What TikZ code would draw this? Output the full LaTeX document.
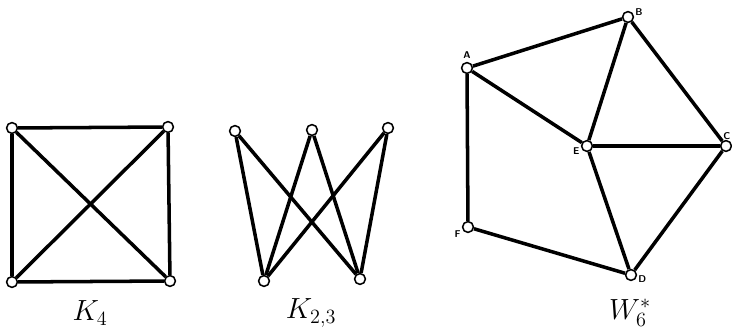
\documentclass[tikz,border=0pt]{standalone}
\usepackage{tikz}
\usetikzlibrary{positioning, calc}
\tikzset{
  vertice/.style={
    circle, draw, fill=white, line width=1.1pt, minimum size=0.27cm, inner sep=0pt
  },
  aresta/.style={line width=2.5pt, black},
  rotulo/.style={font=\sffamily\bfseries\scriptsize, inner sep=1pt},
  titulo/.style={font=\huge},
}

\begin{document}
\begin{tikzpicture}[x=0.025cm, y=-0.025cm]
        \useasboundingbox (0,0) rectangle (732,335);

        % K4
        \node[vertice] (k1) at (12,128) {};
        \node[vertice] (k2) at (168,127) {};
        \node[vertice] (k3) at (170,281) {};
        \node[vertice] (k4) at (12,282) {};
        \foreach \a/\b in {k1/k2, k2/k3, k3/k4, k4/k1, k1/k3, k2/k4}
          \draw[aresta] (\a) -- (\b);
        \node[titulo] (tk4) at (90,313) {$K_4$};

        % K2,3
        \node[vertice] (t1) at (235,131) {};
        \node[vertice] (t2) at (312,130) {};
        \node[vertice] (t3) at (388,128) {};
        \node[vertice] (b1) at (264,281) {};
        \node[vertice] (b2) at (360,279) {};
        \foreach \a in {t1, t2, t3}
          \foreach \b in {b1, b2}
            \draw[aresta] (\a) -- (\b);
        \node[titulo] (tk23) at (311,313) {$K_{2,3}$};

        % W6*
        \node[vertice] (A) at (467,68) {};
        \node[vertice] (B) at (628,17) {};
        \node[vertice] (C) at (726,146) {};
        \node[vertice] (E) at (587,146) {};
        \node[vertice] (D) at (631,275) {};
        \node[vertice] (F) at (468,227) {};
        \foreach \a/\b in {A/B, A/E, A/F, B/E, B/C, E/C, E/D, C/D, F/D}
          \draw[aresta] (\a) -- (\b);
        \node[rotulo, above=1pt of A] (lA) {A};
        \node[rotulo, above right=-3pt and 1pt of B] (lB) {B};
        \node[rotulo, anchor=south east] (lC) at (732,141) {C};
        \node[rotulo, below left=-3pt and 1pt of E] (lE) {E};
        \node[rotulo, below left=-2pt and 1pt of F] (lF) {F};
        \node[rotulo, below right=-4pt and 1pt of D] (lD) {D};
        \node[titulo] (tw6) at (630,313) {$W_6^*$};
\end{tikzpicture}
\end{document}
